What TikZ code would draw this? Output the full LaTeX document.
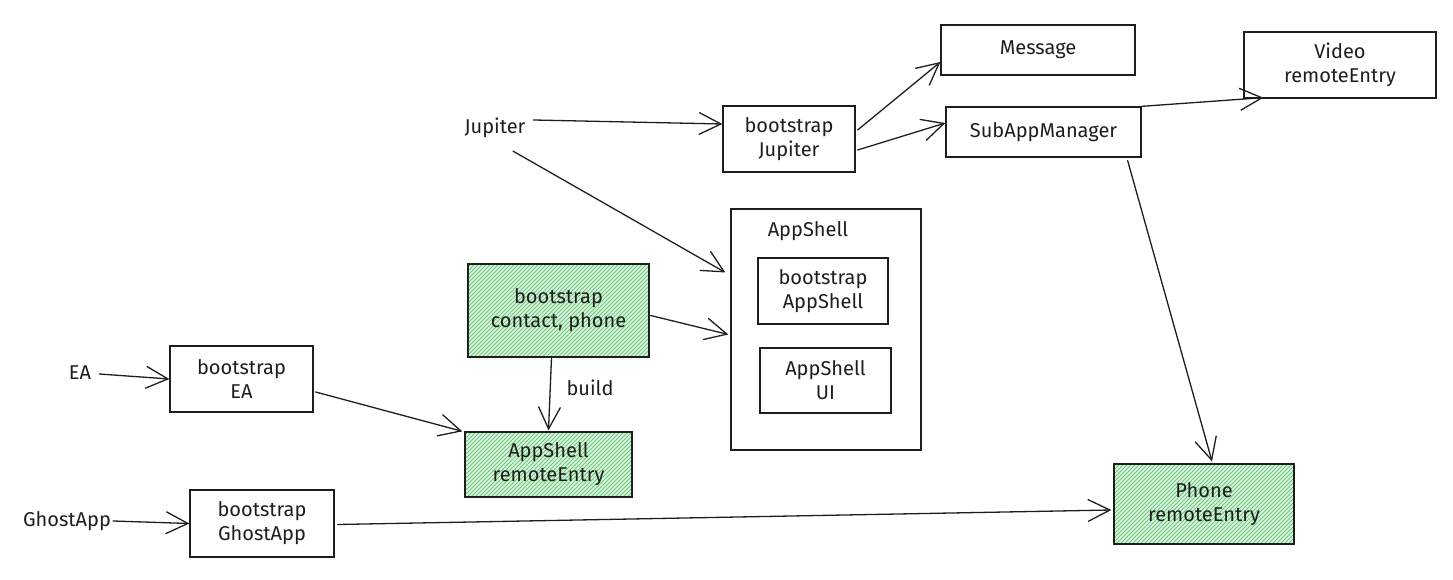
\documentclass[tikz,border=0pt]{standalone}
\usepackage{fontspec}
\setmainfont{Fira Sans}
\usetikzlibrary{arrows.meta,calc}
\definecolor{ink}{HTML}{1E1E1E}
\definecolor{hatchbg}{HTML}{DCF4E0}
\definecolor{hatchln}{HTML}{6CC87B}
\begin{document}
\begin{tikzpicture}[x=1pt,y=-1pt,
  font=\fontsize{20}{24}\selectfont,
  box/.style={draw=ink, line width=1.3pt, align=center, inner sep=2pt, text=ink},
  plain/.style={inner sep=0pt, text=ink},
  hatched/.style={path picture={
     \fill[hatchbg] (path picture bounding box.south west) rectangle (path picture bounding box.north east);
     \foreach \k in {-110,-106,...,200}
       \draw[hatchln, line width=0.8pt] ($(path picture bounding box.south west)+(\k pt,0pt)$) -- ++(120pt,120pt);}},
  link/.style={draw=ink, line width=1.3pt, line cap=round,
     -{Straight Barb[length=22pt,width=22pt,line width=1.3pt]}},
]
\useasboundingbox (0,0) rectangle (1453,580);

% top row
\node[plain] (jup) at (495,128) {Jupiter};
\node[box, minimum width=132pt, minimum height=66pt] (bj) at (789,139) {bootstrap\\Jupiter};
\node[box, minimum width=194pt, minimum height=50pt] (msg) at (1038,50) {Message};
\node[box, minimum width=195pt, minimum height=50pt] (sam) at (1043.5,132) {SubAppManager};
\node[box, minimum width=192pt, minimum height=66pt] (vid) at (1340,65) {Video\\remoteEntry};

% AppShell container
\node[box, minimum width=190pt, minimum height=241pt] (shell) at (826,329.5) {};
\node[plain] (shellname) at (808,231) {AppShell};
\node[box, minimum width=130pt, minimum height=66pt] (bas) at (823,291) {bootstrap\\AppShell};
\node[box, minimum width=131pt, minimum height=65pt] (aui) at (825.5,380.5) {AppShell\\UI};

% generated bundles
\node[box, hatched, minimum width=181pt, minimum height=93pt] (bcp) at (558.5,310.5) {bootstrap\\contact, phone};
\node[box, hatched, minimum width=167pt, minimum height=65pt] (are) at (548.5,464.5) {AppShell\\remoteEntry};
\node[plain] (build) at (590,388) {build};

% left column
\node[plain] (ea) at (80,373) {EA};
\node[box, minimum width=143pt, minimum height=66pt] (bea) at (241.5,379) {bootstrap\\EA};
\node[plain] (ghost) at (67,521) {GhostApp};
\node[box, minimum width=144pt, minimum height=67pt] (bga) at (262,523.5) {bootstrap\\GhostApp};

% phone bundle
\node[box, hatched, minimum width=180pt, minimum height=80pt] (phone) at (1204,504) {Phone\\remoteEntry};

% connectors
\draw[link] ($(jup.east)+(8,-8)$) -- ($(bj.west)+(0,-15)$);
\draw[link] ($(bj.east)+(2,-9)$) -- ($(msg.west)+(0,12)$);
\draw[link] ($(bj.east)+(2,11)$) -- ($(sam.west)+(0,-9)$);
\draw[link] (sam.north east) -- ($(vid.south west)+(20,-1)$);
\draw[link] ($(jup.south)+(18,13)$) -- ($(shell.west)+(-5,-57)$);
\draw[link] ($(bcp.east)+(1,5)$) -- ($(shell.west)+(-2,5)$);
\draw[link] ($(bcp.south)+(-7,0)$) -- ($(are.north)+(0,-1)$);
\draw[link] ($(ea.east)+(8,1)$) -- (bea.west);
\draw[link] ($(bea.east)+(2,13)$) -- ($(are.north west)+(-2,0)$);
\draw[link] ($(ghost.east)+(2,0)$) -- (bga.west);
\draw[link] ($(bga.east)+(3,1)$) -- ($(phone.west)+(-2,6)$);
\draw[link] ($(sam.south east)+(-14,3)$) -- ($(phone.north)+(8,-2)$);
\end{tikzpicture}
\end{document}
